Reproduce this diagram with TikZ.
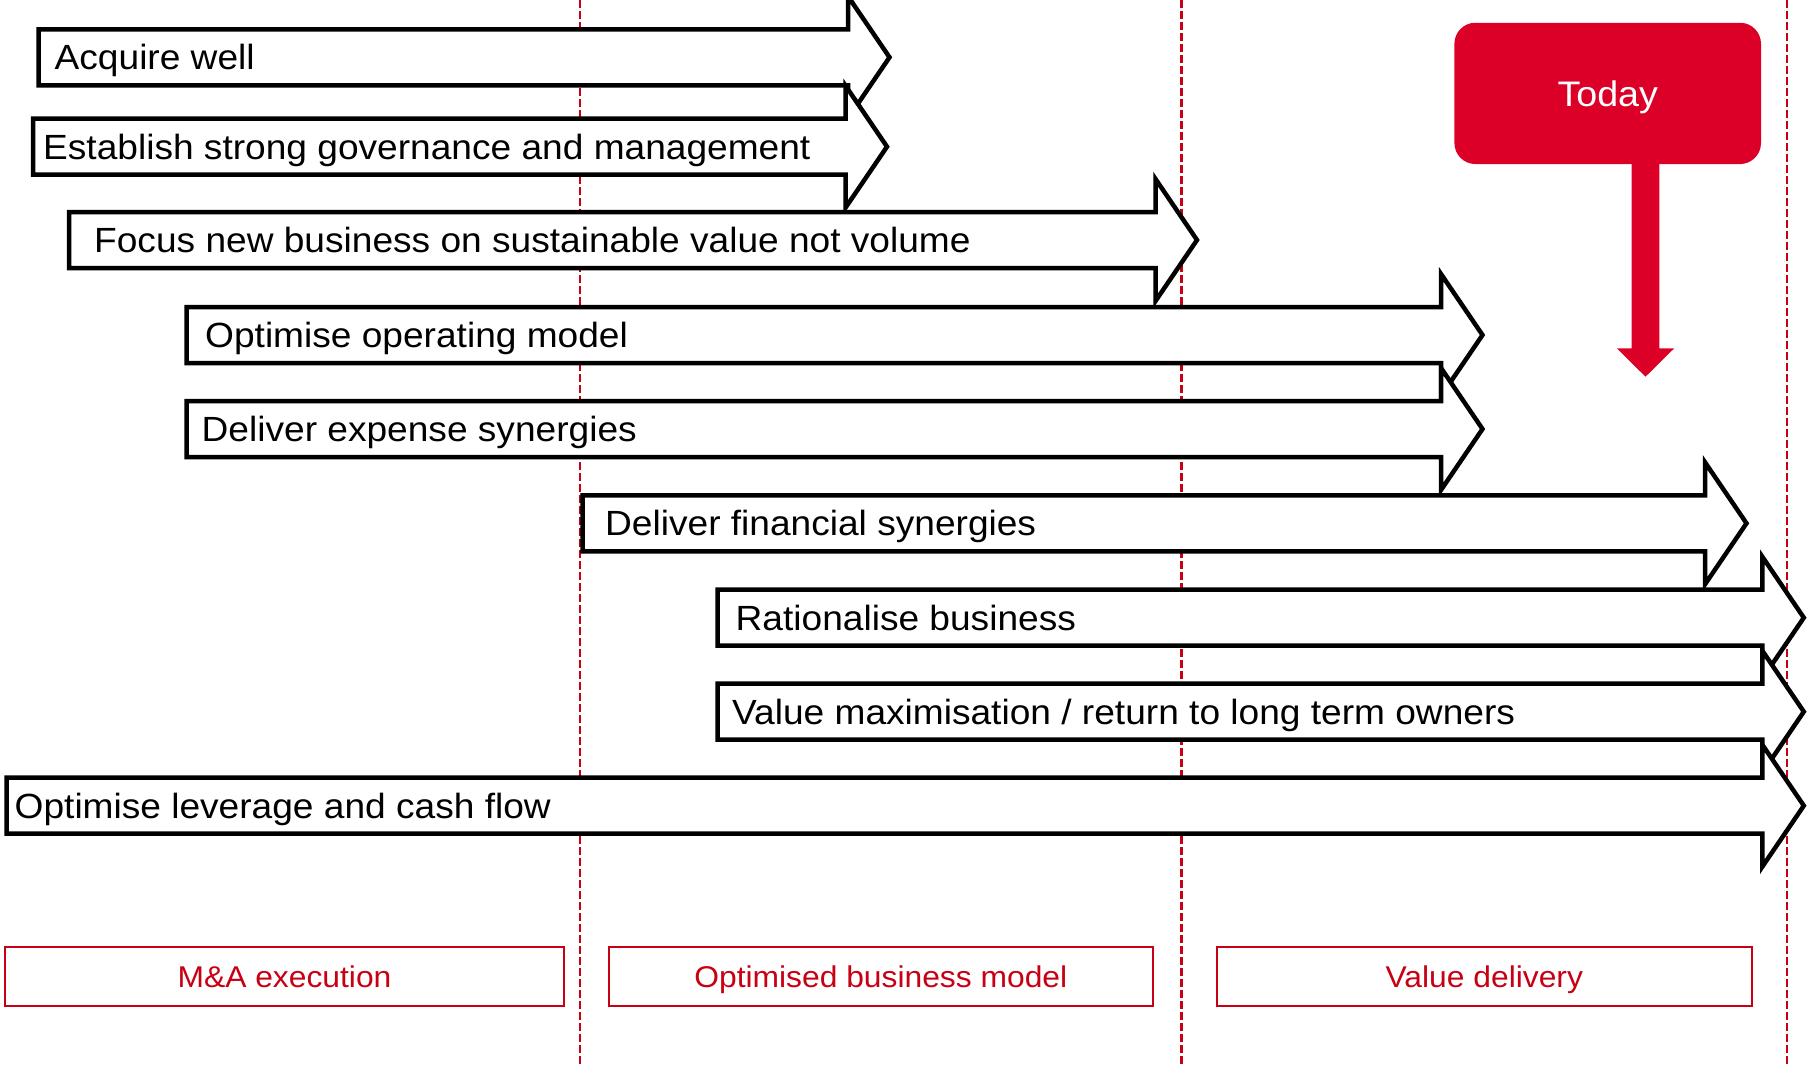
\documentclass[tikz,border=0pt]{standalone}
\usepackage{fontspec}
\setmainfont{Liberation Sans}[FakeStretch=1.06]
\definecolor{todayred}{RGB}{220,0,40}
\definecolor{phasered}{RGB}{200,0,20}
\tikzset{
  arrowshape/.style={draw=black, fill=white, line width=4.5pt, line join=miter},
  arrowtext/.style={anchor=base west, inner sep=0pt, font=\fontsize{35}{40}\selectfont, text=black},
  phaseline/.style={draw=phasered, line width=2.2pt, dash pattern=on 8pt off 3pt},
  phasebox/.style={draw=phasered, line width=2pt, text=phasered, inner sep=0pt,
    minimum height=58.4pt, text height=21.5pt, text depth=0pt,
    font=\fontsize{30}{34}\selectfont},
  todaybox/.style={fill=todayred, rounded corners=21pt, text=white, inner sep=0pt,
    minimum width=306.6pt, minimum height=141.3pt, text height=25.4pt, text depth=0pt,
    font=\fontsize{35.5}{40}\selectfont}
}
% name, left x, shaft end x, centre y, text origin x, text
\newcommand\tlarrow[6]{%
  \draw[arrowshape] (#2,{-#4+28}) -- (#3,{-#4+28}) -- (#3,{-#4+61}) -- ({#3+41.5},{-#4})
    -- (#3,{-#4-61}) -- (#3,{-#4-28}) -- (#2,{-#4-28}) -- cycle;
  \node[arrowtext] (#1) at (#5,{-#4-12.5}) {#6};
}
\begin{document}
\begin{tikzpicture}[x=1pt,y=1pt]
\useasboundingbox (0,0) rectangle (1808,-1066);
\clip (0,0) rectangle (1808,-1066);
% phase separators
\coordinate (d1t) at (580,0);    \coordinate (d1b) at (580,-1066);
\coordinate (d2t) at (1181.5,0); \coordinate (d2b) at (1181.5,-1066);
\coordinate (d3t) at (1787,0);   \coordinate (d3b) at (1787,-1066);
\draw[phaseline] (d1t) -- (d1b);
\draw[phaseline] (d2t) -- (d2b);
\draw[phaseline] (d3t) -- (d3b);
% timeline arrows
\tlarrow{a1}{38.5}{848}{57.3}{54.5}{Acquire well}
\tlarrow{a2}{33}{845.5}{146.7}{43}{Establish strong governance and management}
\tlarrow{a3}{69}{1155.5}{240}{94}{Focus new business on sustainable value not volume}
\tlarrow{a4}{186.6}{1441}{335}{205}{Optimise operating model}
\tlarrow{a5}{186.6}{1441}{429}{201.5}{Deliver expense synergies}
\tlarrow{a6}{582.7}{1705}{523.3}{605}{Deliver financial synergies}
\tlarrow{a7}{717.6}{1762.3}{617.7}{735.5}{Rationalise business}
\tlarrow{a8}{717.6}{1762.3}{711.7}{732}{Value maximisation / return to long term owners}
\tlarrow{a9}{6.5}{1762.3}{805.7}{14.5}{Optimise leverage and cash flow}
% Today marker
\node[todaybox] (today) at (1607.7,-93.4) {Today};
\coordinate (todaytip) at (1645.5,-376.7);
\fill[todayred] (1631.7,-160) -- (1659.3,-160) -- (1659.3,-348.3) -- (1674.2,-348.3)
  -- (todaytip) -- (1616.8,-348.3) -- (1631.7,-348.3) -- cycle;
% phase labels
\node[phasebox, minimum width=559.7pt] (p1) at (284.5,-976.5) {M\&A execution};
\node[phasebox, minimum width=544.5pt] (p2) at (880.8,-976.5) {Optimised business model};
\node[phasebox, minimum width=535.4pt] (p3) at (1484.3,-976.5) {Value delivery};
\end{tikzpicture}
\end{document}
